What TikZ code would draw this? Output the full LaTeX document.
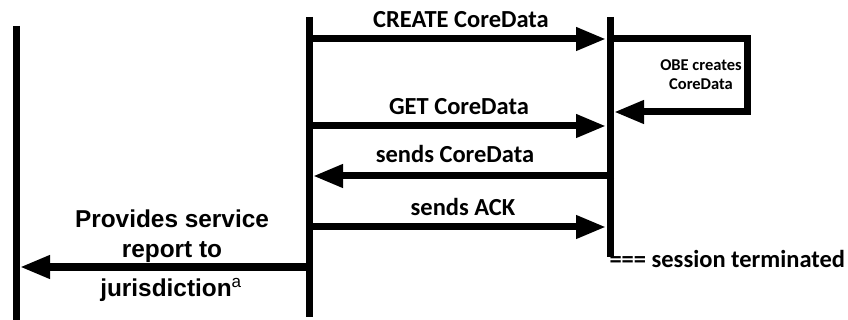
\documentclass[tikz,border=0pt]{standalone}
\usepackage{fontspec}
\setmainfont{Carlito}
\newfontfamily\arialfont{Liberation Sans}
\usetikzlibrary{arrows.meta}

\begin{document}
\begin{tikzpicture}[x=1pt,y=-1pt,line width=7pt,
    msg/.style={-{Triangle[length=30pt,width=22pt]}},
    lbl/.style={font=\fontsize{24.5}{28}\selectfont\bfseries, inner sep=0pt},
    small/.style={font=\fontsize{16.5}{19}\selectfont\bfseries, align=center, inner sep=0pt},
    side/.style={font=\arialfont\fontsize{24.4}{30}\selectfont\bfseries, align=center, inner sep=0pt}]

    \useasboundingbox (0,0) rectangle (848,320);

    % --- Lifelines ---
    \coordinate (juris top) at (16,26);
    \coordinate (juris bot) at (16,320);
    \coordinate (rsu top) at (309,17);
    \coordinate (rsu bot) at (309,317);
    \coordinate (obe top) at (610,17);
    \coordinate (obe bot) at (610,257);

    \draw (juris top) -- (juris bot);
    \draw (rsu top) -- (rsu bot);
    \draw (obe top) -- (obe bot);

    % --- Message end points ---
    \coordinate (create from) at (306,39);
    \coordinate (create to) at (606,39);
    \coordinate (get from) at (306,126);
    \coordinate (get to) at (606,126);
    \coordinate (data from) at (614,176);
    \coordinate (data to) at (313,176);
    \coordinate (ack from) at (306,227);
    \coordinate (ack to) at (606,227);
    \coordinate (report from) at (312,267);
    \coordinate (report to) at (20,267);

    % self call on the OBE
    \coordinate (loop a) at (607,39);
    \coordinate (loop b) at (747,39);
    \coordinate (loop c) at (747,112);
    \coordinate (loop d) at (614,112);

    % --- Messages ---
    \draw[msg] (create from) -- (create to);
    \draw[msg] (loop a) -- (loop b) -- (loop c) -- (loop d);
    \draw[msg] (get from) -- (get to);
    \draw[msg] (data from) -- (data to);
    \draw[msg] (ack from) -- (ack to);
    \draw[msg] (report from) -- (report to);

    % --- Labels ---
    \node[lbl] (create) at (461,20) {CREATE CoreData};
    \node[small] (obe note) at (701,75) {OBE creates\\CoreData};
    \node[lbl] (get) at (459,107) {GET CoreData};
    \node[lbl] (data) at (455,154) {sends CoreData};
    \node[lbl] (ack) at (463,207) {sends ACK};
    \node[lbl, anchor=west] (end) at (606,259) {=== session terminated};
    \node[side] (report) at (172,236) {Provides service\\report to};
    \node[side] (juris) at (171,290) {jurisdiction\textsuperscript{\mdseries a}};

\end{tikzpicture}
\end{document}
